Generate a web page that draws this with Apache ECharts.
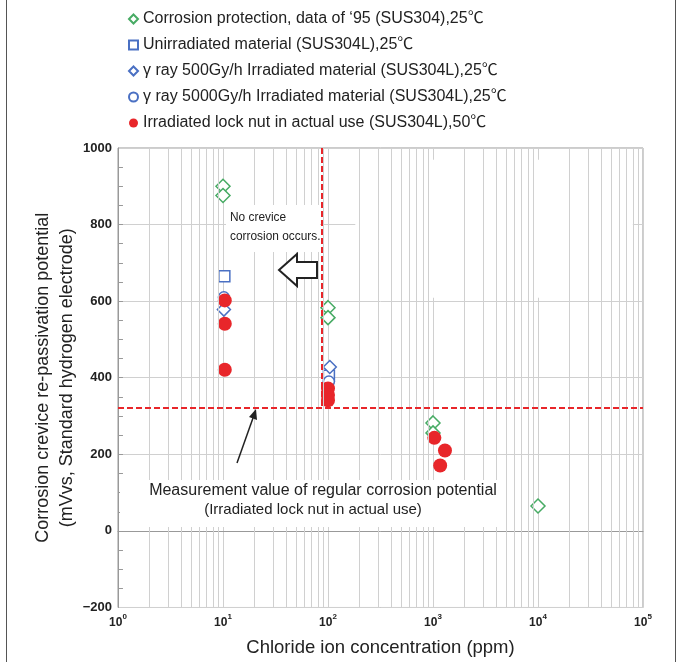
<!DOCTYPE html>
<html>
<head>
<meta charset="utf-8">
<script src="https://cdn.jsdelivr.net/npm/echarts@6/dist/echarts.min.js"></script>
<style>
  html, body { margin: 0; padding: 0; background: #fff; }
  #chart { width: 680px; height: 662px; }
</style>
</head>
<body>
<div id="chart"></div>
<script>
// series names (legend order)
const seriesNames = [
  'Corrosion protection, data of \u201895 (SUS304),25\u2103',
  'Unirradiated material (SUS304L),25\u2103',
  '\u03b3 ray 500Gy/h Irradiated material (SUS304L),25\u2103',
  '\u03b3 ray 5000Gy/h Irradiated material (SUS304L),25\u2103',
  'Irradiated lock nut in actual use (SUS304L),50\u2103'
];

// chloride (ppm) / potential (mV) pairs
const data95X = [10, 10, 100, 100, 1000, 1000, 10000];
const data95Y = [900, 876, 583, 557, 282, 256, 65];
const unirradX = [10.3, 102];
const unirradY = [665, 405];
const gamma500X = [10.2, 104];
const gamma500Y = [578, 428];
const gamma5000X = [10.2, 102];
const gamma5000Y = [610, 390];
const lockNutX = [10.4, 10.4, 10.4, 100, 100, 100, 1030, 1300, 1170];
const lockNutY = [602, 541, 421, 372, 355, 341, 243, 210, 171];

// reference lines
const regularPotential = 322;   // mV, measured regular corrosion potential
const chlorideLimit = 88;       // ppm, vertical boundary
// blank (white) patch in the upper right of the plot
const blankPatchX = [182, 80000];
const blankPatchY = [609, 969];

// axes
const yMin = -200, yMax = 1000, yStep = 200, yMinorStep = 50;
const xMin = 1, xMax = 100000;
const xDecades = [1, 10, 100, 1000, 10000];
const minorSteps = [2, 3, 4, 5, 6, 7, 8, 9];
const innerTickEnd = 1.115;     // x value a few px right of the y axis

const GREEN = '#47ab64';
const BLUE = '#4a70c3';
const RED = '#e8262a';
const FONT = '"Liberation Sans", Arial, "Noto Sans CJK JP", sans-serif';

function pairs(xs, ys) {
  return xs.map((x, i) => [x, ys[i]]);
}

const minorLines = [];
xDecades.forEach(d => minorSteps.forEach(m => minorLines.push({ xAxis: d * m })));

const innerTicks = [];
for (let v = yMin + yMinorStep; v < yMax; v += yMinorStep) {
  innerTicks.push([{ coord: [xMin, v] }, { coord: [innerTickEnd, v] }]);
}

const chart = echarts.init(document.getElementById('chart'), null, { renderer: 'canvas' });

const hollow = (c) => ({ color: '#fff', borderColor: c, borderWidth: 1.5, opacity: 1 });

const option = {
  animation: false,
  textStyle: { fontFamily: FONT },
  legend: {
    data: seriesNames,
    orient: 'vertical',
    left: 123,
    top: 5,
    itemWidth: 9,
    itemHeight: 9,
    itemGap: 8,
    textStyle: { fontSize: 16, color: '#222', lineHeight: 18, fontFamily: FONT }
  },
  grid: {
    left: 118, right: 37, top: 148, bottom: 54,
    show: true, borderColor: '#999', borderWidth: 1
  },
  xAxis: {
    type: 'log',
    logBase: 10,
    min: xMin,
    max: xMax,
    name: 'Chloride ion concentration (ppm)',
    nameLocation: 'middle',
    nameGap: 31,
    nameMoveOverlap: false,
    nameTextStyle: { fontSize: 18.5, color: '#222' },
    axisLine: { lineStyle: { color: '#999' } },
    axisTick: { show: false },
    splitLine: { show: true, lineStyle: { color: '#d0d0d0', width: 1 } },
    axisLabel: {
      margin: 5,
      formatter: v => '{b|10}{s|' + Math.round(Math.log10(v)) + '}',
      rich: {
        b: { fontSize: 12, fontWeight: 'bold', color: '#222', lineHeight: 16, verticalAlign: 'bottom' },
        s: { fontSize: 8, fontWeight: 'bold', color: '#222', verticalAlign: 'top', lineHeight: 10 }
      }
    }
  },
  yAxis: {
    type: 'value',
    min: yMin,
    max: yMax,
    interval: yStep,
    name: 'Corrosion crevice re-passivation potential\n(mVvs, Standard hydrogen electrode)',
    nameLocation: 'middle',
    nameGap: 39,
    nameMoveOverlap: false,
    nameTextStyle: { fontSize: 18, color: '#222', lineHeight: 24 },
    axisLine: { show: true, lineStyle: { color: '#999' } },
    axisTick: { show: false },
    splitLine: { show: true, lineStyle: { color: '#d0d0d0', width: 1 } },
    axisLabel: {
      fontSize: 13, fontWeight: 'bold', color: '#222', margin: 6,
      formatter: v => (v < 0 ? '\u2212' + Math.abs(v) : String(v))
    }
  },
  graphic: [
    // outer frame lines of the figure
    { type: 'line', shape: { x1: 6.5, y1: 0, x2: 6.5, y2: 662 }, style: { stroke: '#555', lineWidth: 1 } },
    { type: 'line', shape: { x1: 675.5, y1: 0, x2: 675.5, y2: 662 }, style: { stroke: '#555', lineWidth: 1 } },
    // "No crevice corrosion occurs." box
    { type: 'rect', z: 50, shape: { x: 226, y: 205, width: 94, height: 47 }, style: { fill: '#fff' } },
    {
      type: 'text', z: 51, x: 230, y: 208, scaleX: 0.88,
      style: { text: 'No crevice\ncorrosion occurs.', fontSize: 13.5, lineHeight: 19, fill: '#222', fontFamily: FONT }
    },
    // hollow arrow pointing left
    {
      type: 'polygon', z: 51,
      shape: { points: [[279, 270], [297, 254], [297, 262], [317, 262], [317, 278], [297, 278], [297, 286]] },
      style: { fill: '#fff', stroke: '#222', lineWidth: 2 }
    },
    // measurement annotation box
    { type: 'rect', z: 50, shape: { x: 120, y: 480, width: 383, height: 47 }, style: { fill: '#fff' } },
    {
      type: 'text', z: 51, x: 323, y: 483,
      style: { text: 'Measurement value of regular corrosion potential', fontSize: 16, fill: '#222', align: 'center', fontFamily: FONT }
    },
    {
      type: 'text', z: 51, x: 313, y: 502,
      style: { text: '(Irradiated lock nut in actual use)', fontSize: 15, fill: '#222', align: 'center', fontFamily: FONT }
    },
    // pointer arrow to the regular potential line
    { type: 'line', z: 51, shape: { x1: 237, y1: 463, x2: 253, y2: 418 }, style: { stroke: '#222', lineWidth: 1.5 } },
    { type: 'polygon', z: 51, shape: { points: [[256, 409], [257, 420], [249, 417]] }, style: { fill: '#222' } }
  ],
  series: [
    {
      // minor log grid lines
      type: 'line', data: [], silent: true, z: 1,
      markLine: {
        silent: true, symbol: 'none', animation: false,
        label: { show: false },
        lineStyle: { color: '#d0d0d0', type: 'solid', width: 1 },
        data: minorLines
      }
    },
    {
      // blank patch + inner y ticks
      type: 'line', data: [], silent: true, z: 1.5,
      markArea: {
        silent: true,
        itemStyle: { color: '#fff', opacity: 1 },
        data: [[{ coord: [blankPatchX[0], blankPatchY[1]] }, { coord: [blankPatchX[1], blankPatchY[0]] }]]
      },
      markLine: {
        silent: true, symbol: 'none', animation: false,
        label: { show: false },
        lineStyle: { color: '#999', type: 'solid', width: 1 },
        data: innerTicks
      }
    },
    {
      name: seriesNames[0], type: 'scatter', symbol: 'diamond', symbolSize: 14,
      itemStyle: hollow(GREEN), data: pairs(data95X, data95Y)
    },
    {
      name: seriesNames[1], type: 'scatter', symbol: 'rect', symbolSize: 11,
      itemStyle: hollow(BLUE), data: pairs(unirradX, unirradY)
    },
    {
      name: seriesNames[2], type: 'scatter', symbol: 'diamond', symbolSize: 13,
      itemStyle: hollow(BLUE), data: pairs(gamma500X, gamma500Y)
    },
    {
      name: seriesNames[3], type: 'scatter', symbol: 'circle', symbolSize: 11,
      itemStyle: hollow(BLUE), data: pairs(gamma5000X, gamma5000Y)
    },
    {
      name: seriesNames[4], type: 'scatter', symbol: 'circle', symbolSize: 14,
      itemStyle: { color: RED, opacity: 1 }, data: pairs(lockNutX, lockNutY),
      markLine: {
        silent: true, symbol: 'none',
        label: { show: false },
        lineStyle: { color: RED, type: [6, 3], width: 2, opacity: 1 },
        data: [
          { yAxis: regularPotential },
          [{ coord: [chlorideLimit, yMax] }, { coord: [chlorideLimit, regularPotential] }]
        ]
      }
    }
  ]
};

chart.setOption(option);
window.addEventListener('resize', () => chart.resize());
</script>
</body>
</html>
